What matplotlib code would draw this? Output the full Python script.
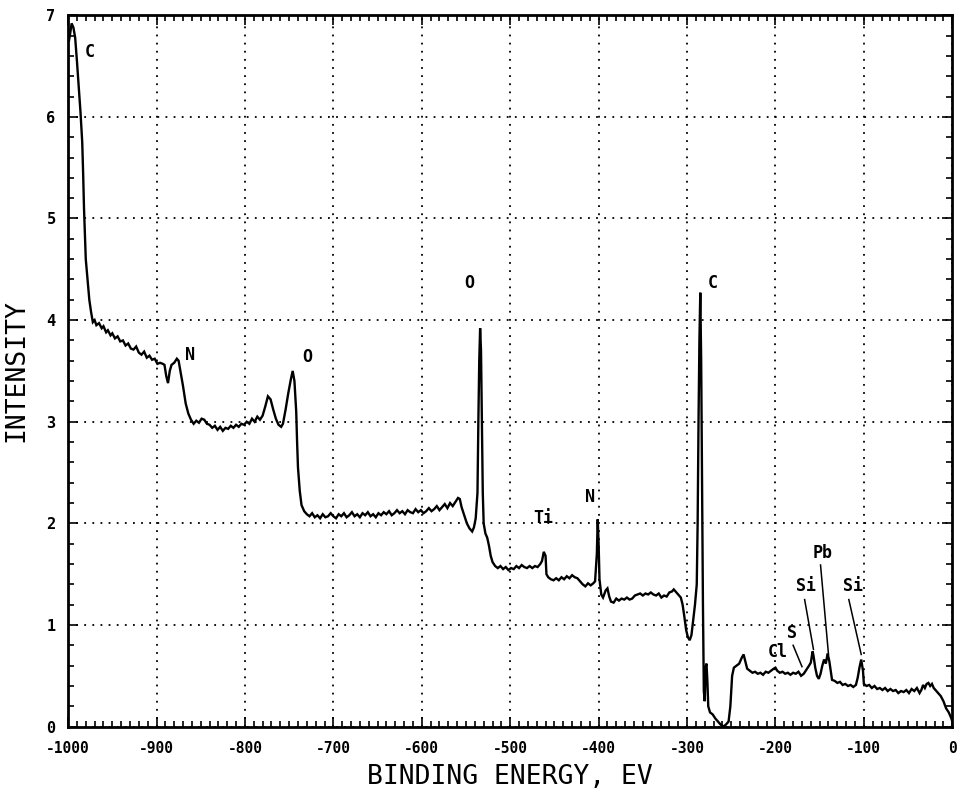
"""XPS survey scan: intensity vs binding energy (re-drawn)."""
import matplotlib
matplotlib.use("Agg")
import matplotlib.pyplot as plt
from matplotlib.ticker import MultipleLocator

# spectrum (binding energy eV, intensity)
ENERGY = [
    -999, -998, -996, -994, -992, -990, -988, -986, -984, -983, -982, -981, -980,
    -978, -976, -974, -972, -970,
    -968, -965, -962, -960, -957, -955, -952, -950, -947, -944, -941, -938, -935,
    -932, -929, -926, -923, -920, -917, -914, -911, -908, -905, -902, -899, -896,
    -893, -891, -889, -887, -885, -883, -880, -877, -875, -873,
    -870, -867, -864, -861, -858, -855, -852, -849, -846, -843, -840, -837, -834,
    -831, -828, -825, -822, -819, -816, -813, -810, -807, -804, -801, -798, -795,
    -792, -789, -786, -783, -780, -777, -774, -771, -768, -765, -762, -759, -757,
    -754, -751, -748, -746, -744, -742, -741, -740, -738, -736, -733, -730,
    -727, -724, -721, -718, -715, -712, -709, -706, -703, -700, -697, -694, -691,
    -688, -685, -682, -679, -676, -673, -670, -667, -664, -661, -658, -655, -652,
    -649, -646, -643, -640, -637, -634, -631, -628, -625, -622, -619, -616, -613,
    -610, -607, -604, -601, -598, -595, -592, -589, -586, -583, -580, -577, -574,
    -571, -568, -565, -562, -559, -557, -555, -552, -549, -546, -543, -541, -539,
    -537, -536, -535, -534, -533, -532, -531, -530, -528, -526, -524, -522, -520,
    -517, -514, -511, -508, -505, -502, -499, -496, -493, -490, -487, -484, -481,
    -478, -475, -472, -469, -466, -464, -462, -460, -459, -457, -454, -451, -448,
    -445, -442, -439, -436, -433, -430, -427, -424, -421, -418, -415, -412, -409,
    -406, -404, -402, -401, -400, -399, -397, -395, -392, -390, -388, -386, -383,
    -380, -377, -374, -371, -368, -365, -362, -359, -356, -353, -350, -347, -344,
    -341, -338, -335, -332, -329, -326, -323, -320, -317, -315, -312, -309, -307,
    -305, -303, -301, -299, -297, -295, -293, -291, -289, -288, -287, -286, -285,
    -284, -283, -282, -281, -280, -279, -278, -277, -276, -274, -271, -268, -265,
    -262, -259, -256, -253, -251, -249, -247, -244, -241, -238, -236, -234, -232,
    -229, -226, -223, -220, -217, -214, -211, -208, -205, -202, -200, -198, -195,
    -192, -189, -186, -183, -180, -177, -174, -171, -168, -165, -162, -160, -158,
    -157, -155, -153, -151, -149, -147, -145, -143, -141, -139, -137, -136, -133,
    -130, -127, -124, -121, -118, -115, -112, -109, -107, -105, -103, -101, -100,
    -97, -94, -91, -88, -85, -82, -79, -76, -73, -70, -67, -64, -61, -58, -55,
    -52, -49, -46, -43, -40, -37, -35, -33, -31, -29, -27, -25, -23, -21, -19,
    -16, -13, -10, -7, -4, -1, 0,
]
INTENSITY = [
    6.75, 6.80, 6.92, 6.88, 6.78, 6.55, 6.30, 6.05, 5.75, 5.45, 5.10, 4.85, 4.60,
    4.40, 4.20, 4.08, 3.98, 4.00,
    3.95, 3.97, 3.92, 3.94, 3.88, 3.90, 3.85, 3.87, 3.82, 3.84, 3.79, 3.80, 3.75,
    3.77, 3.72, 3.71, 3.74, 3.68, 3.66, 3.69, 3.63, 3.65, 3.61, 3.62, 3.57, 3.58,
    3.57, 3.56, 3.45, 3.38, 3.50, 3.56, 3.58, 3.62, 3.60, 3.50,
    3.35, 3.18, 3.08, 3.02, 2.98, 3.01, 2.99, 3.03, 3.02, 2.98, 2.97, 2.94, 2.96,
    2.92, 2.95, 2.91, 2.94, 2.93, 2.96, 2.94, 2.97, 2.95, 2.98, 2.97, 3.00, 2.98,
    3.03, 3.00, 3.05, 3.02, 3.06, 3.15, 3.25, 3.22, 3.12, 3.03, 2.97, 2.95, 2.98,
    3.12, 3.28, 3.42, 3.50, 3.40, 3.10, 2.80, 2.55, 2.32, 2.18, 2.12, 2.09,
    2.07, 2.10, 2.06, 2.08, 2.05, 2.09, 2.06, 2.07, 2.10, 2.07, 2.05, 2.09, 2.07,
    2.10, 2.06, 2.08, 2.11, 2.07, 2.09, 2.06, 2.10, 2.08, 2.11, 2.07, 2.09, 2.06,
    2.10, 2.08, 2.11, 2.09, 2.12, 2.08, 2.10, 2.13, 2.10, 2.12, 2.09, 2.13, 2.11,
    2.10, 2.14, 2.11, 2.13, 2.10, 2.12, 2.15, 2.12, 2.14, 2.17, 2.13, 2.16, 2.19,
    2.15, 2.20, 2.17, 2.21, 2.25, 2.24, 2.16, 2.08, 2.00, 1.95, 1.92, 1.96, 2.05,
    2.30, 3.00, 3.60, 3.92, 3.70, 3.00, 2.30, 2.00, 1.90, 1.86, 1.78, 1.68, 1.62,
    1.58, 1.56, 1.58, 1.55, 1.57, 1.54, 1.56, 1.55, 1.58, 1.56, 1.59, 1.57, 1.56,
    1.58, 1.56, 1.58, 1.57, 1.60, 1.63, 1.72, 1.68, 1.50, 1.47, 1.45, 1.44, 1.46,
    1.44, 1.47, 1.45, 1.48, 1.46, 1.49, 1.47, 1.46, 1.43, 1.40, 1.38, 1.41, 1.39,
    1.41, 1.43, 1.70, 2.04, 1.80, 1.45, 1.30, 1.27, 1.34, 1.36, 1.28, 1.23, 1.22,
    1.26, 1.24, 1.26, 1.25, 1.27, 1.25, 1.26, 1.29, 1.30, 1.31, 1.29, 1.31, 1.30,
    1.32, 1.30, 1.29, 1.31, 1.27, 1.29, 1.28, 1.32, 1.33, 1.35, 1.32, 1.29, 1.27,
    1.20, 1.08, 0.95, 0.88, 0.85, 0.90, 1.05, 1.20, 1.40, 2.00, 3.00, 3.80, 4.27,
    3.60, 2.40, 1.20, 0.35, 0.25, 0.58, 0.62, 0.45, 0.20, 0.14, 0.12, 0.08, 0.05,
    0.02, 0.00, 0.02, 0.05, 0.20, 0.50, 0.58, 0.60, 0.62, 0.68, 0.71, 0.64, 0.57,
    0.55, 0.53, 0.54, 0.52, 0.53, 0.51, 0.54, 0.53, 0.55, 0.57, 0.58, 0.55, 0.53,
    0.54, 0.52, 0.53, 0.51, 0.53, 0.52, 0.54, 0.50, 0.52, 0.56, 0.60, 0.63, 0.74,
    0.70, 0.58, 0.50, 0.47, 0.52, 0.60, 0.66, 0.62, 0.72, 0.64, 0.52, 0.46, 0.45,
    0.43, 0.44, 0.41, 0.42, 0.40, 0.41, 0.39, 0.41, 0.48, 0.58, 0.66, 0.55, 0.42,
    0.40, 0.41, 0.38, 0.40, 0.37, 0.38, 0.36, 0.38, 0.35, 0.37, 0.35, 0.36, 0.33, 0.35, 0.34,
    0.36, 0.33, 0.37, 0.35, 0.38, 0.33, 0.36, 0.41, 0.38, 0.42, 0.43, 0.40, 0.42, 0.38, 0.36,
    0.33, 0.30, 0.25, 0.18, 0.14, 0.08, 0.05,
]

# element labels on the peaks
PEAK_LABELS = ["C", "N", "O", "O", "C", "Ti", "N", "Cl", "S", "Si", "Pb", "Si"]
LABEL_X = [-975, -862, -729, -546, -271, -463, -410, -197, -181, -166, -147, -112]
LABEL_Y = [6.64, 3.66, 3.64, 4.37, 4.37, 2.05, 2.26, 0.73, 0.92, 1.38, 1.71, 1.38]

# leader lines: (from x, from y, to x, to y)
LEADERS = [
    (-180, 0.80, -170, 0.59),   # S
    (-167, 1.25, -157, 0.76),   # Si
    (-149, 1.59, -140, 0.71),   # Pb
    (-117, 1.25, -103, 0.71),   # Si
]

XTICKS = list(range(-1000, 1, 100))
YTICKS = list(range(0, 8))

MONO = "DejaVu Sans Mono"

fig = plt.figure(figsize=(9.59, 8.02), dpi=100)
ax = fig.add_axes([0.071, 0.094, 0.922, 0.887])

ax.plot(ENERGY, INTENSITY, color="black", lw=1.7, solid_joinstyle="miter")

for lab, x, y in zip(PEAK_LABELS, LABEL_X, LABEL_Y):
    ax.text(x, y, lab, ha="center", va="center", fontsize=12,
            family=MONO, fontweight="bold", color="black")
for x0, y0, x1, y1 in LEADERS:
    ax.plot([x0, x1], [y0, y1], color="black", lw=1.1)

ax.set_xlim(-1000, 0)
ax.set_ylim(0, 7)
ax.set_xticks(XTICKS)
ax.set_yticks(YTICKS)
ax.set_xticklabels([str(t) for t in XTICKS], family=MONO, fontsize=10.5,
                   fontweight="bold")
ax.set_yticklabels([str(t) for t in YTICKS], family=MONO, fontsize=11,
                   fontweight="bold")
ax.xaxis.set_minor_locator(MultipleLocator(10))
ax.yaxis.set_minor_locator(MultipleLocator(0.2))
ax.tick_params(which="both", direction="in", top=True, right=True,
               color="black", width=1.2)
ax.tick_params(which="major", length=7)
ax.tick_params(which="minor", length=4)
ax.tick_params(axis="x", which="major", pad=10)
ax.tick_params(axis="y", which="major", pad=9)

ax.grid(True, which="major", color="black", linestyle=(0, (1, 3.5)), lw=1.3)
for sp in ax.spines.values():
    sp.set_linewidth(2.0)

ax.set_xlabel("BINDING ENERGY, EV", family=MONO, fontsize=19, labelpad=6)
ax.set_ylabel("INTENSITY", family=MONO, fontsize=19, labelpad=12)

fig.savefig("out.png", dpi=100)
